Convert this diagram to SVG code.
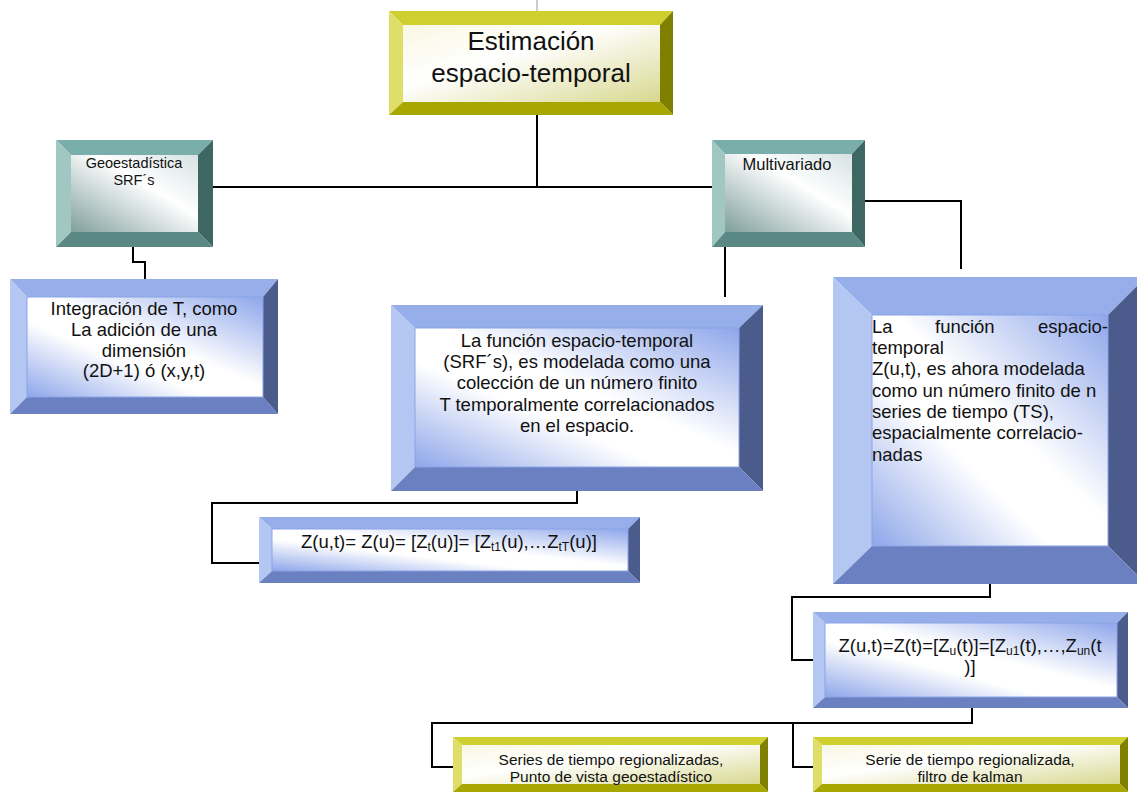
<svg xmlns="http://www.w3.org/2000/svg" width="1137" height="794" viewBox="0 0 1137 794">
<defs>
<linearGradient id="gBlue" x1="1" y1="0" x2="0" y2="1">
<stop offset="0" stop-color="#8ea6ea"/>
<stop offset="0.45" stop-color="#ffffff"/>
<stop offset="0.62" stop-color="#ffffff"/>
<stop offset="1" stop-color="#8ea6ea"/>
</linearGradient>
<linearGradient id="gTeal" x1="1" y1="0" x2="0" y2="1">
<stop offset="0" stop-color="#d6e2e2"/>
<stop offset="0.4" stop-color="#ffffff"/>
<stop offset="1" stop-color="#7f9f9d"/>
</linearGradient>
<linearGradient id="gOlive" x1="0" y1="0" x2="1" y2="1">
<stop offset="0" stop-color="#f8f8e4"/>
<stop offset="0.4" stop-color="#ffffff"/>
<stop offset="1" stop-color="#d8d890"/>
</linearGradient>
</defs>
<style>
.o .t{fill:#cfcf30}.o .l{fill:#dede68}.o .r{fill:#7f7f00}.o .b{fill:#a8a600}.o .f{fill:url(#gOlive)}
.u .t{fill:#96aeea}.u .l{fill:#b4c6f2}.u .r{fill:#4a5b8c}.u .b{fill:#6a80c0}.u .f{fill:url(#gBlue);stroke:#8aa4e6;stroke-width:1}
.g .t{fill:#7aaeaa}.g .l{fill:#a2c6c2}.g .r{fill:#3e6662}.g .b{fill:#5a8884}.g .f{fill:url(#gTeal)}
text{font-family:"Liberation Sans",Arial,sans-serif;fill:#111;}
.c{text-anchor:middle}
.w{font-size:18.5px}
.lf{font-size:15.5px}
.sub{font-size:12px}
#connectors path{fill:none;stroke:#000;stroke-width:2}
</style>
<g id="connectors">
<path d="M537 0V11" style="stroke:#999;stroke-width:1"/>
<path d="M537 115V187"/>
<path d="M213 187H712"/>
<path d="M133 247V262H145V279"/>
<path d="M725 247V297"/>
<path d="M865 201H961V269"/>
<path d="M577 491V503H212V563H259"/>
<path d="M990 584V597H792V660H813"/>
<path d="M972 708V723H432V767H453"/>
<path d="M793 723V767H813"/>
</g>
<g id="n-top" class="o">
<polygon class="t" points="389,11 673,11 660,25 403,25"/>
<polygon class="l" points="389,11 403,25 403,102 389,115"/>
<polygon class="r" points="673,11 673,115 660,102 660,25"/>
<polygon class="b" points="389,115 403,102 660,102 673,115"/>
<rect class="f" x="403" y="25" width="257" height="77"/>
<text class="c" x="531" y="50" font-size="26">Estimación</text>
<text class="c" x="531" y="82" font-size="26">espacio-temporal</text>
</g>
<g id="n-geo" class="g">
<polygon class="t" points="56,140 213,140 198,155 71,155"/>
<polygon class="l" points="56,140 71,155 71,232 56,247"/>
<polygon class="r" points="213,140 213,247 198,232 198,155"/>
<polygon class="b" points="56,247 71,232 198,232 213,247"/>
<rect class="f" x="71" y="155" width="127" height="77"/>
<text class="c" x="134" y="168" font-size="14.5">Geoestadística</text>
<text class="c" x="134" y="185" font-size="14.5">SRF´s</text>
</g>
<g id="n-multi" class="g">
<polygon class="t" points="712,140 865,140 852,154 725,154"/>
<polygon class="l" points="712,140 725,154 725,232 712,247"/>
<polygon class="r" points="865,140 865,247 852,232 852,154"/>
<polygon class="b" points="712,247 725,232 852,232 865,247"/>
<rect class="f" x="725" y="154" width="127" height="78"/>
<text class="c" x="787" y="170" font-size="16.5">Multivariado</text>
</g>
<g id="n-integ" class="u">
<polygon class="t" points="10,279 278,279 263,297 27,297"/>
<polygon class="l" points="10,279 27,297 27,397 10,414"/>
<polygon class="r" points="278,279 278,414 263,397 263,297"/>
<polygon class="b" points="10,414 27,397 263,397 278,414"/>
<rect class="f" x="27" y="297" width="236" height="100"/>
<text class="c w" x="144" y="315">Integración de T, como</text>
<text class="c w" x="144" y="336">La adición de una</text>
<text class="c w" x="144" y="357">dimensión</text>
<text class="c w" x="144" y="377">(2D+1) ó (x,y,t)</text>
</g>
<g id="n-func" class="u">
<polygon class="t" points="391,305 763,305 739,328 415,328"/>
<polygon class="l" points="391,305 415,328 415,467 391,491"/>
<polygon class="r" points="763,305 763,491 739,467 739,328"/>
<polygon class="b" points="391,491 415,467 739,467 763,491"/>
<rect class="f" x="415" y="328" width="324" height="139"/>
<text class="c w" x="577" y="347">La función espacio-temporal</text>
<text class="c w" x="577" y="368">(SRF´s), es modelada como una</text>
<text class="c w" x="577" y="389">colección de un número finito</text>
<text class="c w" x="577" y="411">T temporalmente correlacionados</text>
<text class="c w" x="577" y="432">en el espacio.</text>
</g>
<g id="n-multi-desc" class="u">
<polygon class="t" points="833,277 1146,277 1108,315 872,315"/>
<polygon class="l" points="833,277 872,315 872,546 833,584"/>
<polygon class="r" points="1146,277 1146,584 1108,546 1108,315"/>
<polygon class="b" points="833,584 872,546 1108,546 1146,584"/>
<rect class="f" x="872" y="315" width="236" height="231"/>
<text class="w" x="872" y="333">La</text>
<text class="w" x="935" y="333">función</text>
<text class="w" x="1108" y="333" text-anchor="end">espacio-</text>
<text class="w" x="872" y="354">temporal</text>
<text class="w" x="872" y="375">Z(u,t), es ahora modelada</text>
<text class="w" x="872" y="397">como un número finito de n</text>
<text class="w" x="872" y="418">series de tiempo (TS),</text>
<text class="w" x="872" y="439">espacialmente correlacio-</text>
<text class="w" x="872" y="461">nadas</text>
</g>
<g id="n-zu" class="u">
<polygon class="t" points="259,517 640,517 628,529 272,529"/>
<polygon class="l" points="259,517 272,529 272,571 259,583"/>
<polygon class="r" points="640,517 640,583 628,571 628,529"/>
<polygon class="b" points="259,583 272,571 628,571 640,583"/>
<rect class="f" x="272" y="529" width="356" height="42"/>
<text class="c w" x="449" y="548">Z(u,t)= Z(u)= [Z<tspan class="sub" dy="3">t</tspan><tspan dy="-3">(u)]= [Z</tspan><tspan class="sub" dy="3">t1</tspan><tspan dy="-3">(u),…Z</tspan><tspan class="sub" dy="3">tT</tspan><tspan dy="-3">(u)]</tspan></text>
</g>
<g id="n-zt" class="u">
<polygon class="t" points="813,612 1128,612 1117,623 825,623"/>
<polygon class="l" points="813,612 825,623 825,697 813,708"/>
<polygon class="r" points="1128,612 1128,708 1117,697 1117,623"/>
<polygon class="b" points="813,708 825,697 1117,697 1128,708"/>
<rect class="f" x="825" y="623" width="292" height="74"/>
<text class="c w" x="970" y="652">Z(u,t)=Z(t)=[Z<tspan class="sub" dy="3">u</tspan><tspan dy="-3">(t)]=[Z</tspan><tspan class="sub" dy="3">u1</tspan><tspan dy="-3">(t),…,Z</tspan><tspan class="sub" dy="3">un</tspan><tspan dy="-3">(t</tspan></text>
<text class="c w" x="970" y="673">)]</text>
</g>
<g id="n-leaf1" class="o">
<polygon class="t" points="453,737 768,737 760,745 462,745"/>
<polygon class="l" points="453,737 462,745 462,784 453,792"/>
<polygon class="r" points="768,737 768,792 760,784 760,745"/>
<polygon class="b" points="453,792 462,784 760,784 768,792"/>
<rect class="f" x="462" y="745" width="298" height="39"/>
<text class="c lf" x="611" y="765">Series de tiempo regionalizadas,</text>
<text class="c lf" x="611" y="782">Punto de vista geoestadístico</text>
</g>
<g id="n-leaf2" class="o">
<polygon class="t" points="813,737 1128,737 1120,745 822,745"/>
<polygon class="l" points="813,737 822,745 822,784 813,792"/>
<polygon class="r" points="1128,737 1128,792 1120,784 1120,745"/>
<polygon class="b" points="813,792 822,784 1120,784 1128,792"/>
<rect class="f" x="822" y="745" width="298" height="39"/>
<text class="c lf" x="970" y="765">Serie de tiempo regionalizada,</text>
<text class="c lf" x="970" y="782">filtro de kalman</text>
</g>
</svg>
